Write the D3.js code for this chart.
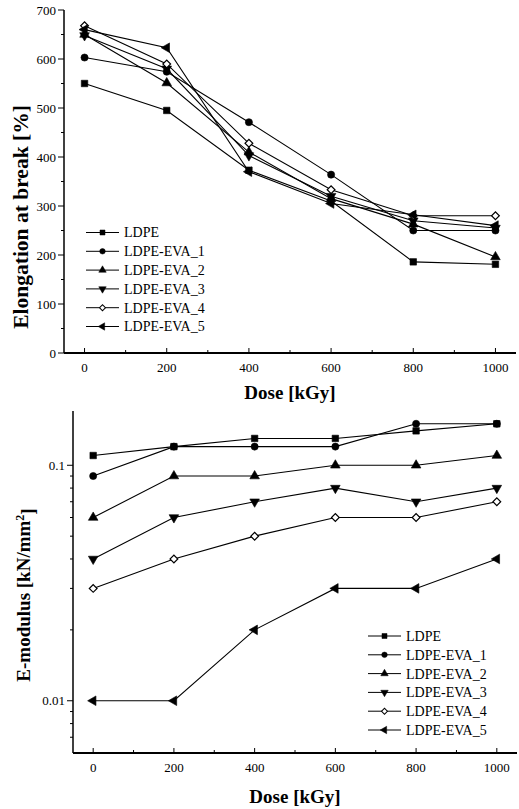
<!DOCTYPE html>
<html>
<head>
<meta charset="utf-8">
<script src="https://cdn.jsdelivr.net/npm/d3@7"></script>
<style>
  body { margin: 0; background: #fff; }
  svg text { font-family: 'Liberation Serif', 'DejaVu Serif', 'Times New Roman', Times, serif; fill: #000; }
  .tick-label { font-size: 13px; }
  .axis-title { font-size: 19px; font-weight: bold; }
  .legend-label { font-size: 14px; }
</style>
</head>
<body>
<svg id="chart" width="519" height="809"></svg>
<script>
'use strict';

// dose values shared by both panels
var doses = [0, 200, 400, 600, 800, 1000];

var seriesNames = ['LDPE', 'LDPE-EVA_1', 'LDPE-EVA_2', 'LDPE-EVA_3', 'LDPE-EVA_4', 'LDPE-EVA_5'];

// elongation at break [%]
var elongLDPE = [550, 495, 373, 310, 186, 181];
var elongEVA1 = [603, 574, 471, 364, 250, 250];
var elongEVA2 = [650, 551, 410, 315, 263, 196];
var elongEVA3 = [648, 580, 403, 320, 270, 255];
var elongEVA4 = [668, 590, 428, 333, 280, 280];
var elongEVA5 = [660, 623, 370, 305, 282, 260];

// E-modulus [kN/mm2]
var modLDPE = [0.11, 0.12, 0.13, 0.13, 0.14, 0.15];
var modEVA1 = [0.09, 0.12, 0.12, 0.12, 0.15, 0.15];
var modEVA2 = [0.06, 0.09, 0.09, 0.10, 0.10, 0.11];
var modEVA3 = [0.04, 0.06, 0.07, 0.08, 0.07, 0.08];
var modEVA4 = [0.03, 0.04, 0.05, 0.06, 0.06, 0.07];
var modEVA5 = [0.01, 0.01, 0.02, 0.03, 0.03, 0.04];

var elongTicks = [0, 100, 200, 300, 400, 500, 600, 700];
var doseTicks = [0, 200, 400, 600, 800, 1000];
var modTicks = [0.01, 0.1];

var FONT = "'Liberation Serif', 'DejaVu Serif', 'Times New Roman', Times, serif";

// marker per series: symbol type, rotation, open or filled
var markers = [
  { type: d3.symbolSquare, size: 42, rotate: 0, open: false },
  { type: d3.symbolCircle, size: 40, rotate: 0, open: false },
  { type: d3.symbolTriangle, size: 40, rotate: 0, open: false },
  { type: d3.symbolTriangle, size: 40, rotate: 180, open: false },
  { type: d3.symbolSquare, size: 30, rotate: 45, open: true },
  { type: d3.symbolTriangle, size: 40, rotate: -90, open: false }
];

var svg = d3.select('#chart');

function drawMarker(g, i, x, y) {
  var m = markers[i];
  g.append('path')
    .attr('d', d3.symbol().type(m.type).size(m.size)())
    .attr('transform', 'translate(' + x + ',' + y + ') rotate(' + m.rotate + ')')
    .attr('fill', m.open ? '#fff' : '#000')
    .attr('stroke', '#000')
    .attr('stroke-width', m.open ? 1.2 : 0.6);
}

function drawPanel(opts) {
  var g = svg.append('g').attr('font-family', FONT);
  var x = d3.scaleLinear().domain([-50, 1050]).range([opts.left, opts.right]);
  var y = opts.y;

  // x axis: ticks point inward
  var xAxis = g.append('g').attr('transform', 'translate(0,' + opts.bottom + ')');
  xAxis.append('line')
    .attr('x1', opts.left).attr('x2', opts.right)
    .attr('stroke', '#000').attr('stroke-width', 2);
  d3.range(0, 1001, 100).forEach(function (v) {
    var major = v % 200 === 0;
    xAxis.append('line')
      .attr('x1', x(v)).attr('x2', x(v))
      .attr('y1', 0).attr('y2', major ? -5 : -3)
      .attr('stroke', '#000').attr('stroke-width', 1);
  });
  doseTicks.forEach(function (v) {
    xAxis.append('text')
      .attr('class', 'tick-label')
      .attr('x', x(v)).attr('y', 19)
      .attr('text-anchor', 'middle')
      .text(v);
  });

  // y axis: ticks point outward
  var yAxis = g.append('g').attr('transform', 'translate(' + opts.left + ',0)');
  yAxis.append('line')
    .attr('y1', opts.top).attr('y2', opts.bottom)
    .attr('stroke', '#000').attr('stroke-width', 1.5);
  opts.minorTicks.forEach(function (v) {
    yAxis.append('line')
      .attr('x1', 0).attr('x2', -3)
      .attr('y1', y(v)).attr('y2', y(v))
      .attr('stroke', '#000');
  });
  opts.majorTicks.forEach(function (v) {
    yAxis.append('line')
      .attr('x1', 0).attr('x2', -6)
      .attr('y1', y(v)).attr('y2', y(v))
      .attr('stroke', '#000');
    yAxis.append('text')
      .attr('class', 'tick-label')
      .attr('x', -8).attr('y', y(v)).attr('dy', '0.35em')
      .attr('text-anchor', 'end')
      .text(opts.format(v));
  });

  // axis titles
  g.append('text')
    .attr('class', 'axis-title')
    .attr('x', opts.xTitleX).attr('y', opts.xTitleY)
    .attr('text-anchor', 'middle')
    .text('Dose [kGy]');

  var yTitle = g.append('text')
    .attr('class', 'axis-title')
    .attr('transform', 'translate(' + opts.yTitleX + ',' + opts.yTitleY + ') rotate(-90)')
    .attr('text-anchor', 'middle');
  if (opts.yTitleSize) yTitle.style('font-size', opts.yTitleSize);
  opts.yTitle(yTitle);

  // series lines then markers
  var line = d3.line()
    .x(function (d, i) { return x(doses[i]); })
    .y(function (d) { return y(d); });

  opts.series.forEach(function (vals) {
    g.append('path')
      .attr('d', line(vals))
      .attr('fill', 'none')
      .attr('stroke', '#000')
      .attr('stroke-width', 1.1);
  });
  opts.series.forEach(function (vals, si) {
    vals.forEach(function (v, i) {
      drawMarker(g, si, x(doses[i]), y(v));
    });
  });

  // legend
  var lg = g.append('g');
  seriesNames.forEach(function (name, i) {
    var ly = opts.legendY + i * 18.8;
    lg.append('line')
      .attr('x1', opts.legendX).attr('x2', opts.legendX + 33)
      .attr('y1', ly).attr('y2', ly)
      .attr('stroke', '#000').attr('stroke-width', 1);
    var m = markers[i];
    lg.append('path')
      .attr('d', d3.symbol().type(m.type).size(m.size * 0.6)())
      .attr('transform', 'translate(' + (opts.legendX + 16.5) + ',' + ly + ') rotate(' + m.rotate + ')')
      .attr('fill', m.open ? '#fff' : '#000')
      .attr('stroke', '#000')
      .attr('stroke-width', m.open ? 1 : 0.5);
    lg.append('text')
      .attr('class', 'legend-label')
      .attr('x', opts.legendX + 38).attr('y', ly).attr('dy', '0.35em')
      .text(name);
  });
}

// top panel: elongation at break
var yElong = d3.scaleLinear().domain([0, 700]).range([353, 10]);
drawPanel({
  left: 64, right: 516, top: 10, bottom: 353,
  y: yElong,
  majorTicks: elongTicks,
  minorTicks: d3.range(50, 700, 100),
  format: function (v) { return v; },
  series: [elongLDPE, elongEVA1, elongEVA2, elongEVA3, elongEVA4, elongEVA5],
  xTitleX: 290, xTitleY: 399,
  yTitleX: 28, yTitleY: 217, yTitleSize: '21.5px',
  yTitle: function (t) { t.text('Elongation at break [%]'); },
  legendX: 86, legendY: 232.5
});

// bottom panel: E-modulus, log scale
var yMod = d3.scaleLog().domain([0.006, 0.17]).range([753, 411]);
var modMinor = [0.007, 0.008, 0.009, 0.02, 0.03, 0.04, 0.05, 0.06, 0.07, 0.08, 0.09];
drawPanel({
  left: 73, right: 517, top: 411, bottom: 753,
  y: yMod,
  majorTicks: modTicks,
  minorTicks: modMinor,
  format: function (v) { return String(v); },
  series: [modLDPE, modEVA1, modEVA2, modEVA3, modEVA4, modEVA5],
  xTitleX: 295, xTitleY: 803,
  yTitleX: 30, yTitleY: 595,
  yTitle: function (t) {
    t.append('tspan').text('E-modulus [kN/mm');
    t.append('tspan').attr('dy', '-0.5em').attr('font-size', '12px').text('2');
    t.append('tspan').attr('dy', '0.5em').text(']');
  },
  legendX: 368, legendY: 636
});
</script>
</body>
</html>
